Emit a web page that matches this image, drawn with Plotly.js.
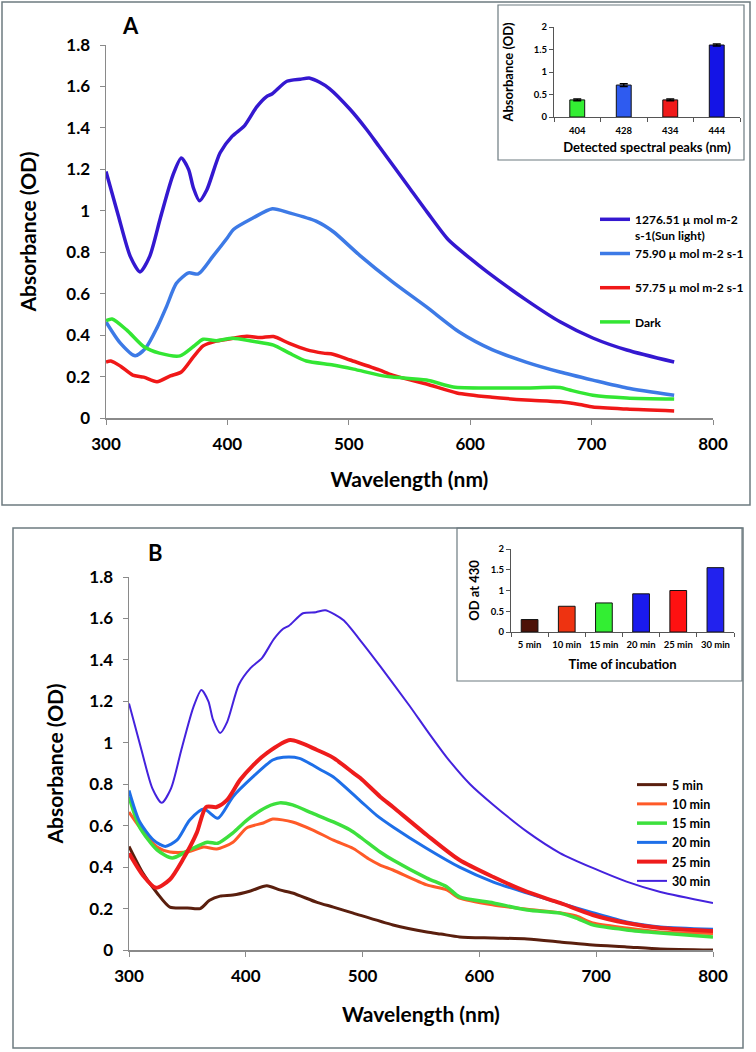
<!DOCTYPE html>
<html>
<head>
<meta charset="utf-8">
<script src="https://cdn.plot.ly/plotly-3.0.1.min.js"></script>
<style>html,body{margin:0;padding:0;background:#fff;}#chart{width:756px;height:1052px;}</style>
</head>
<body>
<div id="chart"></div>
<script>
// ---------- Panel A: spectra ----------
const wlSun  = [300,310,320,328,336,345,355,362,368,372,377,383,394,404,414,424,432,437,449,460,468,476,484,501,515,525,550,565,582,600,614,646,674,701,729,768];
const absSun = [1.19,0.98,0.78,0.705,0.78,0.97,1.17,1.255,1.20,1.11,1.048,1.10,1.28,1.36,1.41,1.50,1.55,1.565,1.625,1.635,1.64,1.62,1.59,1.49,1.39,1.31,1.11,0.99,0.86,0.77,0.705,0.57,0.464,0.386,0.328,0.27];

const wl7590  = [300,312,324,333,342,350,358,368,376,388,400,405,421,437,451,473,487,509,536,564,591,618,646,674,701,729,768];
const abs7590 = [0.464,0.36,0.30,0.34,0.435,0.54,0.65,0.70,0.695,0.78,0.87,0.91,0.965,1.01,0.99,0.95,0.90,0.785,0.657,0.536,0.415,0.33,0.27,0.222,0.183,0.145,0.11];

const wl5775  = [300,304,312,322,331,342,353,362,372,380,390,400,416,427,438,451,465,479,487,501,525,536,564,589,618,646,674,690,701,729,768];
const abs5775 = [0.27,0.275,0.25,0.207,0.197,0.175,0.203,0.222,0.295,0.348,0.37,0.38,0.395,0.388,0.393,0.36,0.33,0.313,0.308,0.28,0.232,0.207,0.164,0.121,0.10,0.087,0.078,0.065,0.053,0.043,0.034];

const wlDark  = [300,305,317,331,344,361,372,380,391,404,421,438,451,465,487,504,525,536,564,586,618,646,674,682,701,729,768];
const absDark = [0.47,0.478,0.425,0.345,0.313,0.30,0.345,0.38,0.373,0.385,0.37,0.352,0.313,0.275,0.256,0.236,0.207,0.198,0.183,0.15,0.145,0.145,0.147,0.135,0.11,0.097,0.092];

const namesA = ['1276.51 µ mol m-2<br>s-1(Sun light)', '75.90 µ mol m-2 s-1<br> ', '57.75 µ mol m-2 s-1<br> ', 'Dark<br> '];

// Panel A inset
const peakCats = ['404','428','434','444'];
const peakVals = [0.38,0.71,0.38,1.60];
const peakErr  = [0.02,0.03,0.02,0.02];

// ---------- Panel B: spectra ----------
const wl5  = [300,312,324,335,350,361,369,378,389,404,418,429,440,461,475,492,526,555,567,583,612,641,669,697,726,755,800];
const ab5  = [0.50,0.37,0.275,0.207,0.203,0.20,0.24,0.26,0.265,0.285,0.31,0.29,0.275,0.23,0.207,0.178,0.121,0.087,0.077,0.063,0.058,0.053,0.039,0.024,0.015,0.005,0.0];
const wl10 = [300,309,324,335,350,364,375,389,401,415,423,440,457,475,492,505,515,526,555,572,583,612,641,669,683,697,726,755,800];
const ab10 = [0.666,0.594,0.497,0.473,0.473,0.497,0.487,0.52,0.59,0.613,0.632,0.618,0.58,0.53,0.49,0.44,0.41,0.386,0.314,0.29,0.25,0.217,0.197,0.18,0.164,0.13,0.106,0.087,0.08];
const wl15 = [300,309,324,337,350,367,376,389,401,418,429,440,457,475,489,498,515,526,555,572,583,612,641,669,683,697,726,755,800];
const ab15 = [0.74,0.594,0.483,0.444,0.478,0.52,0.515,0.565,0.627,0.69,0.71,0.70,0.66,0.618,0.58,0.545,0.473,0.434,0.347,0.305,0.256,0.227,0.193,0.178,0.154,0.121,0.097,0.082,0.063];
const wl20 = [300,309,321,331,341,352,364,376,389,406,423,432,446,464,475,498,512,526,555,583,612,641,669,697,726,755,800];
const ab20 = [0.77,0.62,0.53,0.50,0.53,0.627,0.68,0.636,0.74,0.835,0.917,0.93,0.925,0.87,0.835,0.72,0.65,0.594,0.49,0.40,0.328,0.275,0.227,0.18,0.135,0.111,0.10];
const wl25 = [300,312,323,335,346,358,366,375,384,395,406,418,438,461,475,492,498,515,526,555,583,612,641,669,697,726,755,800];
const ab25 = [0.467,0.36,0.30,0.34,0.435,0.565,0.69,0.69,0.724,0.82,0.89,0.95,1.013,0.965,0.927,0.855,0.83,0.74,0.69,0.555,0.434,0.352,0.28,0.227,0.169,0.13,0.106,0.092];
const wl30 = [300,310,320,328,336,345,355,362,368,372,378,384,394,404,414,424,432,437,449,460,468,476,484,500,515,540,555,572,592,612,641,669,697,726,755,800];
const ab30 = [1.19,0.98,0.78,0.71,0.78,0.97,1.17,1.255,1.20,1.11,1.047,1.10,1.28,1.36,1.41,1.50,1.55,1.565,1.625,1.63,1.64,1.62,1.59,1.48,1.37,1.18,1.06,0.93,0.80,0.70,0.57,0.468,0.396,0.33,0.28,0.227];
const namesB = ['5 min','10 min','15 min','20 min','25 min','30 min'];

// Panel B inset
const timeCats = ['5 min','10 min','15 min','20 min','25 min','30 min'];
const timeVals = [0.30,0.62,0.70,0.92,1.00,1.55];

// ---------- layout helpers ----------
const W = 756, H = 1052;
const px = v => v / W;
const py = v => 1 - v / H;
const FONT = 'Lato, "Open Sans", "DejaVu Sans", sans-serif';
const AX = '#8a8a8a';

function lineTrace(x, y, name, color, width, axes, legend) {
  return {x: x, y: y, name: name, type: 'scatter', mode: 'lines',
    line: {color: color, width: width, shape: 'spline', smoothing: 0.7},
    xaxis: axes[0], yaxis: axes[1], legend: legend, hoverinfo: 'skip'};
}

const data = [
  lineTrace(wlSun, absSun, namesA[0], '#3418d0', 3.5, ['x','y'], 'legend'),
  lineTrace(wl7590, abs7590, namesA[1], '#3d7ae6', 3.5, ['x','y'], 'legend'),
  lineTrace(wl5775, abs5775, namesA[2], '#f01818', 3.5, ['x','y'], 'legend'),
  lineTrace(wlDark, absDark, namesA[3], '#33e633', 3.5, ['x','y'], 'legend'),
  {type:'bar', x: peakCats, y: peakVals, xaxis:'x2', yaxis:'y2', showlegend:false, width:0.32,
   marker:{color:['#33ee33','#2e5bf0','#f01a1a','#1414e6'], line:{color:'#111', width:1}},
   error_y:{type:'data', array: peakErr, visible:true, color:'#000', thickness:1.5, width:4}},
  lineTrace(wl5, ab5, namesB[0], '#5a1f0e', 3, ['x3','y3'], 'legend2'),
  lineTrace(wl10, ab10, namesB[1], '#ff5a28', 3, ['x3','y3'], 'legend2'),
  lineTrace(wl15, ab15, namesB[2], '#3de03d', 3.5, ['x3','y3'], 'legend2'),
  lineTrace(wl20, ab20, namesB[3], '#1e6fe8', 3, ['x3','y3'], 'legend2'),
  lineTrace(wl25, ab25, namesB[4], '#ee1c1c', 4, ['x3','y3'], 'legend2'),
  lineTrace(wl30, ab30, namesB[5], '#4422dd', 2, ['x3','y3'], 'legend2'),
  {type:'bar', x: timeCats, y: timeVals, xaxis:'x4', yaxis:'y4', showlegend:false, width:0.45,
   marker:{color:['#4d1208','#ee3311','#33ee33','#1a1aee','#ff1111','#2222ee'], line:{color:'#111', width:1}}}
];

function mainX(domain, anchor, standoff) {
  return {domain: domain, anchor: anchor, range: [300, 800], tickvals: [300,400,500,600,700,800],
    showline: true, linecolor: AX, linewidth: 1.5, ticks: 'outside', ticklen: 5, tickcolor: AX,
    ticklabelstandoff: 5,
    showgrid: false, zeroline: false, fixedrange: true,
    tickfont: {family: FONT, size: 17, color: '#000', weight: 'bold'},
    title: {text: 'Wavelength (nm)', font: {family: FONT, size: 21, color: '#000', weight: 'bold'}, standoff: standoff}};
}
function mainY(domain, anchor, standoff) {
  return {domain: domain, anchor: anchor, range: [0, 1.8], dtick: 0.2, tick0: 0,
    showline: true, linecolor: AX, linewidth: 1.5, ticks: 'outside', ticklen: 5, tickcolor: AX,
    ticklabelstandoff: 6,
    showgrid: false, zeroline: false, fixedrange: true,
    tickfont: {family: FONT, size: 17, color: '#000', weight: 'bold'},
    title: {text: 'Absorbance (OD)', font: {family: FONT, size: 21, color: '#000', weight: 'bold'}, standoff: standoff}};
}
function insetX(domain, anchor, n, title, standoff, tls) {
  return {domain: domain, anchor: anchor, type: 'category', range: [-0.5, n - 0.5],
    showline: true, linecolor: '#555', linewidth: 1, ticks: 'outside', ticklen: 4, tickcolor: '#555',
    tickson: 'boundaries', tickangle: 0, ticklabelstandoff: tls,
    showgrid: false, zeroline: false, fixedrange: true,
    tickfont: {family: FONT, size: 9.5, color: '#000', weight: 'bold'},
    title: {text: title, font: {family: FONT, size: 13, color: '#000', weight: 'bold'}, standoff: standoff}};
}
function insetY(domain, anchor, title, standoff) {
  return {domain: domain, anchor: anchor, range: [0, 2], dtick: 0.5, tick0: 0,
    showline: true, linecolor: '#555', linewidth: 1, ticks: 'outside', ticklen: 4, tickcolor: '#555',
    showgrid: false, zeroline: false, fixedrange: true,
    tickfont: {family: FONT, size: 9.5, color: '#000', weight: 'bold'},
    title: {text: title, font: {family: FONT, size: 13, color: '#000', weight: 'bold'}, standoff: standoff}};
}

const boxes = [[2,2,750,505,'#6d7b80',1.5],[498,5,744,160,'#6d7b80',1.2],[13,528,743,1048,'#6d7b80',1.5],[457,528,742,681,'#6d7b80',1.2]];

const layout = {
  width: W, height: H, margin: {l:0, r:0, t:0, b:0},
  paper_bgcolor: '#fff', plot_bgcolor: 'rgba(0,0,0,0)',
  font: {family: FONT, color: '#000'},
  xaxis: mainX([px(106), px(713)], 'y', 19),
  yaxis: mainY([py(418), py(45)], 'x', 24),
  xaxis2: insetX([px(554), px(740)], 'y2', peakCats.length, 'Detected spectral peaks (nm)', 7, 5),
  yaxis2: insetY([py(117), py(27)], 'x2', 'Absorbance (OD)', 17),
  xaxis3: mainX([px(129), px(713)], 'y3', 22),
  yaxis3: mainY([py(950), py(577)], 'x3', 20),
  xaxis4: insetX([px(511), px(734)], 'y4', timeCats.length, 'Time of incubation', 10, 4),
  yaxis4: insetY([py(632), py(549)], 'x4', 'OD at 430', 8),
  legend: {x: px(595), y: py(205), xanchor: 'left', yanchor: 'top', bgcolor: 'rgba(0,0,0,0)',
    valign: 'top', font: {family: FONT, size: 12, color: '#000', weight: 'bold'}},
  legend2: {x: px(632), y: py(770), xanchor: 'left', yanchor: 'top', bgcolor: 'rgba(0,0,0,0)',
    font: {family: FONT, size: 12.5, color: '#000', weight: 'bold'}},
  shapes: boxes.map(b => ({type: 'rect', xref: 'paper', yref: 'paper', x0: px(b[0]), y0: py(b[3]), x1: px(b[2]), y1: py(b[1]),
    line: {color: b[4], width: b[5]}, fillcolor: 'rgba(0,0,0,0)', layer: 'above'})),
  annotations: [
    {text: 'A', xref: 'paper', yref: 'paper', x: px(130), y: py(25), showarrow: false, xanchor: 'center', yanchor: 'middle',
     font: {family: FONT, size: 22, color: '#000', weight: 'bold'}},
    {text: 'B', xref: 'paper', yref: 'paper', x: px(155), y: py(552), showarrow: false, xanchor: 'center', yanchor: 'middle',
     font: {family: FONT, size: 22, color: '#000', weight: 'bold'}}
  ]
};

Plotly.newPlot('chart', data, layout, {staticPlot: true, displayModeBar: false});
</script>
</body>
</html>
